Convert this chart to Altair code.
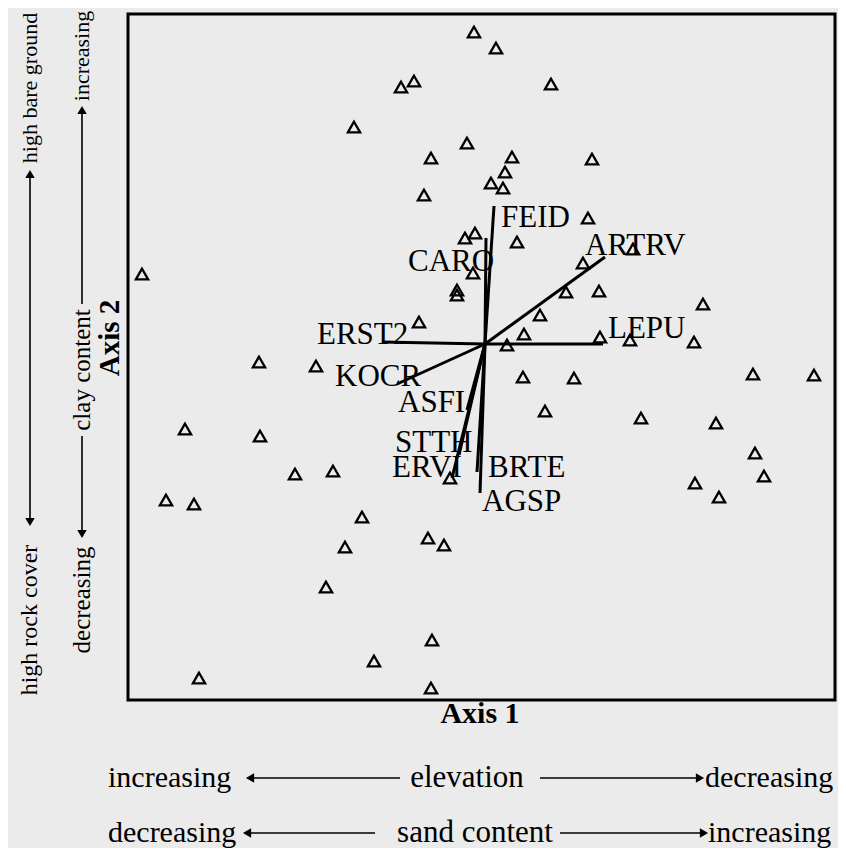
import altair as alt
import pandas as pd

FONT = "Liberation Serif"

# Site scores (Axis 1, Axis 2)
site_x = [-0.11, 0.11, -0.84, -0.71, 0.66, -1.31, -0.18, -0.54, 0.27, 1.07,
          0.20, 0.06, 0.18, -0.61, 1.03, -0.20, -0.10, 0.32, 1.48, -3.43,
          -0.12, -0.28, -0.28, 0.98, 0.81, 1.14, 2.18, 0.55, -0.66, 0.39,
          0.22, 1.15, 1.45, 2.09, -2.26, -1.69, 0.38, 0.89, 2.68, 3.29,
          0.60, 1.56, 2.31, -3.00, -2.25, 2.70, -1.90, -1.52, -0.35, 2.79,
          2.10, 2.34, -3.19, -2.91, -1.23, -1.40, -0.57, -0.41, -1.59, -0.53,
          -1.11, -2.86, -0.54]
site_y = [3.12, 2.96, 2.57, 2.63, 2.60, 2.17, 2.01, 1.86, 1.87, 1.85,
          1.72, 1.61, 1.56, 1.49, 1.26, 1.06, 1.11, 1.02, 0.95, 0.70,
          0.71, 0.54, 0.49, 0.81, 0.52, 0.53, 0.40, 0.29, 0.22, 0.10,
          -0.01, 0.07, 0.04, 0.02, -0.18, -0.22, -0.33, -0.34, -0.30, -0.31,
          -0.67, -0.74, -0.79, -0.85, -0.92, -1.09, -1.30, -1.27, -1.34, -1.32,
          -1.39, -1.53, -1.56, -1.60, -1.73, -2.03, -1.94, -2.01, -2.43, -2.96,
          -3.17, -3.34, -3.44]

# Species vectors
species = ["FEID", "CARO", "ARTRV", "LEPU", "ERST2", "KOCR",
           "ASFI", "STTH", "ERVI", "BRTE", "AGSP"]
vec_x = [0.09, 0.01, 1.20, 1.18, -1.03, -0.88, -0.18, -0.26, -0.33, -0.08, -0.05]
vec_y = [1.38, 1.06, 0.87, 0.00, 0.02, -0.40, -0.66, -1.11, -1.34, -1.28, -1.49]
label_x = [0.16, -0.77, 1.00, 1.23, -1.68, -1.50, -0.87, -0.90, -0.93, 0.03, -0.03]
label_y = [1.26, 0.82, 0.98, 0.15, 0.09, -0.33, -0.59, -0.99, -1.24, -1.24, -1.58]

sites = pd.DataFrame({"ax1": site_x, "ax2": site_y})
vecs = pd.DataFrame({"sp": species, "x0": 0.0, "y0": 0.0, "vx": vec_x, "vy": vec_y,
                     "lx": label_x, "ly": label_y})

xs = alt.Scale(domain=[-3.57, 3.50], nice=False, zero=False)
ys = alt.Scale(domain=[-3.56, 3.30], nice=False, zero=False)

rules = alt.Chart(vecs).mark_rule(color="black", strokeWidth=3).encode(
    x=alt.X("x0:Q", scale=xs, axis=None),
    y=alt.Y("y0:Q", scale=ys, axis=None),
    x2="vx:Q", y2="vy:Q")

points = alt.Chart(sites).mark_point(shape="triangle-up", filled=False, size=150,
                                     strokeWidth=2.3, color="black", opacity=1).encode(
    x=alt.X("ax1:Q", scale=xs, axis=None),
    y=alt.Y("ax2:Q", scale=ys, axis=None))

labels = alt.Chart(vecs).mark_text(align="left", baseline="middle", font=FONT,
                                   fontSize=31, color="black").encode(
    x=alt.X("lx:Q", scale=xs, axis=None),
    y=alt.Y("ly:Q", scale=ys, axis=None),
    text="sp:N")

deco = alt.Data(values=[{"k": 0}])


def txt(s, x, y, size, angle=0, bold=False, align="center"):
    return alt.Chart(deco).mark_text(
        text=s, font=FONT, fontSize=size, fontWeight="bold" if bold else "normal",
        angle=angle, align=align, baseline="middle", color="black"
    ).encode(x=alt.value(x), y=alt.value(y))


def hline(x1, x2, y):
    return alt.Chart(deco).mark_rule(color="black", strokeWidth=1.6).encode(
        x=alt.value(x1), x2=alt.value(x2), y=alt.value(y))


def vline(x, y1, y2):
    return alt.Chart(deco).mark_rule(color="black", strokeWidth=1.6).encode(
        x=alt.value(x), y=alt.value(y1), y2=alt.value(y2))


def head(x, y, shape):
    return alt.Chart(deco).mark_point(shape=shape, filled=True, size=90, color="black",
                                      opacity=1).encode(x=alt.value(x), y=alt.value(y))


decor = [
    txt("Axis 1", 352, 700, 30, bold=True),
    txt("Axis 2", -18, 324, 29, angle=270, bold=True),
    # bottom row 1
    txt("increasing", -20, 764, 30, align="left"),
    hline(125, 272, 764), head(122, 764, "triangle-left"),
    txt("elevation", 339, 764, 31),
    hline(412, 568, 764), head(572, 764, "triangle-right"),
    txt("decreasing", 577, 764, 30, align="left"),
    # bottom row 2
    txt("decreasing", -20, 819, 30, align="left"),
    hline(122, 247, 819), head(119, 819, "triangle-left"),
    txt("sand content", 347, 819, 31),
    hline(432, 572, 819), head(576, 819, "triangle-right"),
    txt("increasing", 580, 819, 30, align="left"),
    # left column 1
    txt("high bare ground", -98, 74, 22, angle=270),
    vline(-98, 162, 505), head(-98, 160, "triangle-up"), head(-98, 508, "triangle-down"),
    txt("high rock cover", -98, 606, 24, angle=270),
    # left column 2
    txt("increasing", -46, 42, 22, angle=270),
    vline(-46, 98, 290), head(-46, 96, "triangle-up"),
    txt("clay content", -46, 356, 25, angle=270),
    vline(-46, 422, 518), head(-46, 520, "triangle-down"),
    txt("decreasing", -46, 586, 25, angle=270),
]

chart = alt.layer(rules, points, labels, *decor).properties(
    width=707, height=686,
    background="#ebebeb",
    padding={"left": 120, "top": 6, "right": 3, "bottom": 148},
    autosize=alt.AutoSizeParams(type="none"),
).configure_view(stroke="black", strokeWidth=3, fill="#ebebeb")

chart.save("out.html", embed_options={"renderer": "svg", "actions": False})
